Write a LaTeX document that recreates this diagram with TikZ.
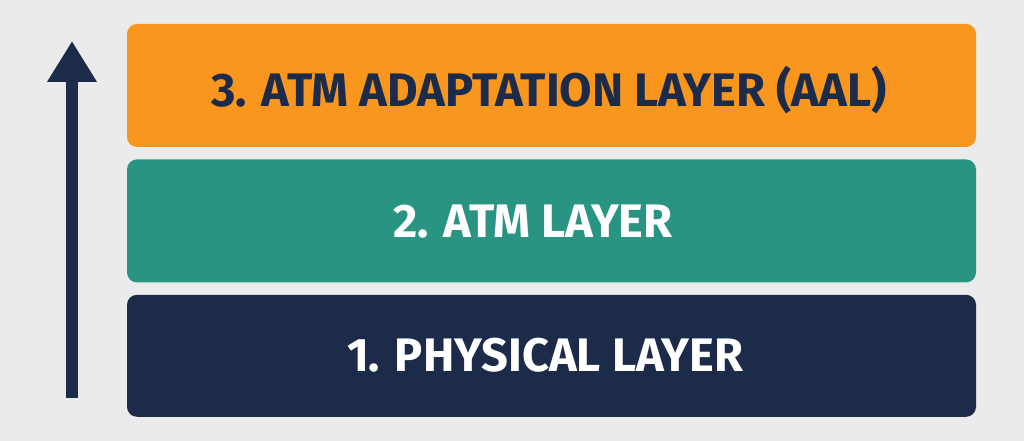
\documentclass[tikz,border=0pt]{standalone}
\usepackage{fontspec}
\setmainfont{Fira Sans}
\usetikzlibrary{positioning, arrows.meta}
\definecolor{bgGray}{HTML}{EBEBEB}
\definecolor{aalOrange}{HTML}{F8961E}
\definecolor{atmTeal}{HTML}{2A9483}
\definecolor{phyNavy}{HTML}{1C2B4A}
\tikzset{
	layer/.style={rounded corners=10pt, minimum width=849pt, minimum height=123pt, inner sep=0pt},
	layerText/.style={anchor=base, inner sep=0pt, font=\fontsize{47}{52}\selectfont\bfseries},
	upArrow/.style={draw=phyNavy, line width=12pt, -{Triangle[length=41pt, width=47pt]}},
}

\begin{document}
\begin{tikzpicture}[x=1pt, y=1pt, node distance=12pt]
	\fill[bgGray] (0,0) rectangle (1024,441);
	\useasboundingbox (0,0) rectangle (1024,441);

	% the three layers, bottom one slightly lower
	\node[layer, fill=aalOrange] (aal) at (551.5,355.5) {};
	\node[layer, fill=atmTeal, below=of aal] (atm) {};
	\node[layer, fill=phyNavy, below=of atm, minimum height=122pt] (phy) {};

	\node[layerText, text=phyNavy] (aalText) at (549,334) {3. ATM ADAPTATION LAYER (AAL)};
	\node[layerText, text=white] (atmText) at (533,203) {2. ATM LAYER};
	\node[layerText, text=white] (phyText) at (545,69) {1. PHYSICAL LAYER};

	\coordinate (arrowFoot) at (72,43);
	\coordinate (arrowTip) at (72,400);
	\draw[upArrow] (arrowFoot) -- (arrowTip);
\end{tikzpicture}
\end{document}
